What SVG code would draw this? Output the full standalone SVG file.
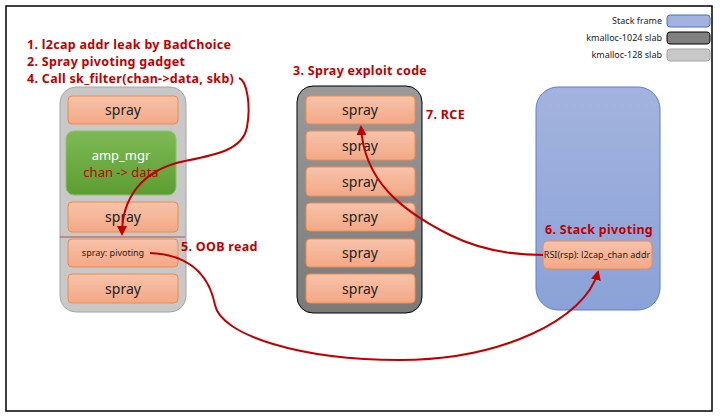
<svg xmlns="http://www.w3.org/2000/svg" width="724" height="417" viewBox="0 0 724 417">
<defs>
<linearGradient id="gOr" x1="0" y1="0" x2="0" y2="1"><stop offset="0" stop-color="#F7C3AA"/><stop offset="1" stop-color="#F3A886"/></linearGradient>
<linearGradient id="gGr" x1="0" y1="0" x2="0" y2="1"><stop offset="0" stop-color="#7DBA55"/><stop offset="1" stop-color="#5C9D32"/></linearGradient>
<linearGradient id="gDk" x1="0" y1="0" x2="0" y2="1"><stop offset="0" stop-color="#9A9A9A"/><stop offset="1" stop-color="#7A7A7A"/></linearGradient>
<linearGradient id="gBl" x1="0" y1="0" x2="0" y2="1"><stop offset="0" stop-color="#A3B3DE"/><stop offset="1" stop-color="#8BA2D8"/></linearGradient>
<marker id="ah" viewBox="0 0 10 10" refX="8" refY="5" markerWidth="5" markerHeight="5" orient="auto"><path d="M0,0 L10,5 L0,10 z" fill="#C00000"/></marker>
</defs>
<style>
.spray{fill:url(#gOr);stroke:#F08A4B;stroke-width:1}
.st{font-family:"Noto Sans","Open Sans",sans-serif;font-size:14px;fill:#222;text-anchor:middle}
.sm{font-family:"Noto Sans","Open Sans",sans-serif;font-size:9px;fill:#222;text-anchor:middle}
.lbl{font-family:"Noto Sans","Open Sans",sans-serif;font-size:12.5px;letter-spacing:0.3px;font-weight:bold;fill:#C00000}
.leg{font-family:"Noto Sans","Open Sans",sans-serif;font-size:9px;fill:#222;text-anchor:end}
.con{fill:none;stroke:#C00000;stroke-width:2}
</style>
<rect x="6" y="6" width="706" height="405" fill="#fff" stroke="#000" stroke-width="1.5"/>
<g id="legend">
<text class="leg" x="662" y="24">Stack frame</text>
<rect x="667" y="15" width="43" height="12" rx="3" fill="#A3B3DE" stroke="#4472C4"/>
<text class="leg" x="662" y="41">kmalloc-1024 slab</text>
<rect x="667" y="32" width="43" height="12" rx="3" fill="#808080" stroke="#000"/>
<text class="leg" x="662" y="58">kmalloc-128 slab</text>
<rect x="667" y="49" width="43" height="12" rx="3" fill="#C8C8C8" stroke="#A6A6A6"/>
</g>
<g id="slab128">
<rect x="60" y="87" width="126" height="225" rx="16" fill="#C8C8C8" stroke="#A6A6A6"/>
<g id="l-spray1"><rect class="spray" x="68" y="96" width="110" height="28" rx="4"/><text class="st" x="123" y="115">spray</text></g>
<g id="amp_mgr"><rect x="66" y="131" width="110" height="64" rx="8" fill="url(#gGr)" stroke="#8CC46A"/><text class="st" x="121" y="160" style="fill:#fff;font-size:13px">amp_mgr</text><text class="st" x="121" y="177" style="fill:#C00000;font-size:13px">chan -&gt; data</text></g>
<g id="l-spray2"><rect class="spray" x="68" y="202" width="110" height="30" rx="4"/><text class="st" x="123" y="222">spray</text></g>
<line x1="60" y1="237" x2="185" y2="237" stroke="#B0504A" stroke-width="1"/>
<g id="l-pivot"><rect class="spray" x="68" y="239" width="110" height="28" rx="4"/><text class="sm" x="113" y="256">spray: pivoting</text></g>
<g id="l-spray3"><rect class="spray" x="68" y="274" width="110" height="29" rx="4"/><text class="st" x="123" y="294">spray</text></g>
</g>
<g id="slab1024">
<rect x="297" y="86" width="125" height="227" rx="16" fill="url(#gDk)" stroke="#000"/>
<g id="m-spray1"><rect class="spray" x="306" y="96" width="109" height="28" rx="4"/><text class="st" x="360" y="115">spray</text></g>
<g id="m-spray2"><rect class="spray" x="306" y="131" width="109" height="29" rx="4"/><text class="st" x="360" y="151">spray</text></g>
<g id="m-spray3"><rect class="spray" x="306" y="167" width="109" height="29" rx="4"/><text class="st" x="360" y="187">spray</text></g>
<g id="m-spray4"><rect class="spray" x="306" y="203" width="109" height="28" rx="4"/><text class="st" x="360" y="222">spray</text></g>
<g id="m-spray5"><rect class="spray" x="306" y="239" width="109" height="28" rx="4"/><text class="st" x="360" y="258">spray</text></g>
<g id="m-spray6"><rect class="spray" x="306" y="274" width="109" height="29" rx="4"/><text class="st" x="360" y="294">spray</text></g>
</g>
<g id="stack">
<rect x="536" y="87" width="124" height="223" rx="22" fill="url(#gBl)" stroke="#5B7FCB"/>
<g id="rsi"><rect class="spray" x="543" y="241" width="109" height="28" rx="5"/><text class="sm" x="597" y="258">RSI(rsp): l2cap_chan addr</text></g>
</g>
<g id="labels">
<text class="lbl" x="27" y="49">1. l2cap addr leak by BadChoice</text>
<text class="lbl" x="27" y="66">2. Spray pivoting gadget</text>
<text class="lbl" x="27" y="83">4. Call sk_filter(chan-&gt;data, skb)</text>
<text class="lbl" x="293" y="75">3. Spray exploit code</text>
<text class="lbl" x="426" y="119">7. RCE</text>
<text class="lbl" x="181" y="251">5. OOB read</text>
<text class="lbl" x="545" y="234">6. Stack pivoting</text>
</g>
<g id="connectors">
<path class="con" d="M239,78 C247,81 251,105 247,127 C243,150 215,155 185,161 C140,170 122,200 122,234" marker-end="url(#ah)"/>
<path class="con" d="M150,253 C195,255 210,280 215,305 C221,335 300,360 400,360 C500,360 585,320 598,272" marker-end="url(#ah)"/>
<path class="con" d="M543,255 C510,255 480,250 450,235 C400,210 364,180 361,127" marker-end="url(#ah)"/>
</g>
</svg>
